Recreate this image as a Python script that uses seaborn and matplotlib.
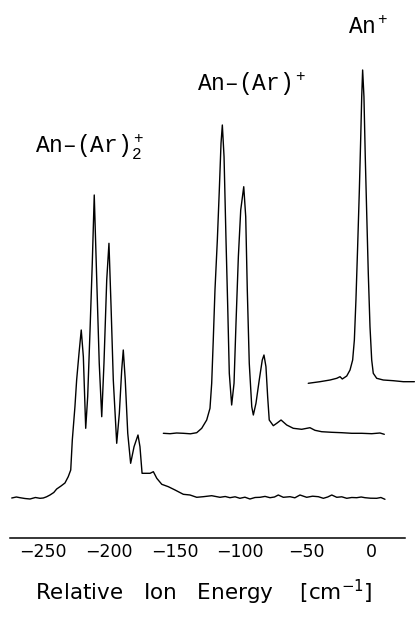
import numpy as np
import pandas as pd
import matplotlib
matplotlib.use("Agg")
import matplotlib.pyplot as plt
import seaborn as sns

# ---- spectra: relative ion energy (cm^-1) and signal (arb. units above each trace's baseline)
dimer_energy = [-274.0, -270.5, -267.7, -264.0, -260.1, -256.0, -252.5, -250.0, -247.5, -244.9,
                -242.0, -239.8, -236.5, -233.5, -231.0, -229.1, -227.9, -225.9, -224.6, -222.8,
                -221.1, -219.5, -217.7, -216.2, -214.4, -212.7, -211.2, -209.3, -207.4, -205.5,
                -203.8, -201.7, -200.0, -198.4, -196.7, -194.1, -192.1, -190.3, -189.1, -187.6,
                -185.7, -183.5, -180.9, -177.9, -176.4, -174.8, -172.5, -168.7, -166.2, -163.6,
                -159.8, -154.8, -149.7, -143.4, -138.3, -133.2, -128.2, -121.8, -115.5, -111.5,
                -107.9, -104.0, -100.3, -96.5, -92.7, -88.8, -85.0, -81.2, -77.4, -74.0,
                -71.1, -67.3, -62.2, -58.5, -54.6, -49.5, -45.0, -40.6, -36.8, -33.5,
                -30.4, -26.6, -22.8, -19.0, -15.2, -11.4, -8.0, -5.1, -1.0, 3.8, 7.0, 10.1]
dimer_signal = [0.0, 1.0, 0.3, -0.5, -1.0, 0.5, -0.3, 0.0, 1.2, 3.0,
                5.5, 9.0, 12.0, 15.0, 21.3, 28.0, 58.0, 91.3, 118.0, 144.7,
                168.0, 141.3, 69.7, 101.3, 168.0, 234.7, 303.0, 218.0, 134.7, 81.3,
                134.7, 218.0, 254.7, 191.3, 118.0, 54.7, 84.7, 128.0, 148.0, 118.0,
                64.7, 34.7, 51.3, 63.0, 51.3, 24.7, 24.7, 24.7, 26.3, 19.7,
                13.7, 11.3, 8.0, 3.7, 3.0, 0.7, 1.3, 2.3, 0.7, 1.5,
                0.3, 1.2, -0.3, 0.8, -1.0, 0.5, 0.7, 1.6, 0.3, 1.0,
                3.0, 0.7, 1.3, 0.2, 3.0, 0.7, 1.8, 1.3, -0.3, 1.0,
                3.0, 0.7, 1.2, -0.3, 0.5, 0.3, 1.0, 0.3, -0.2, -0.3, 0.5, -1.3]

monomer_energy = [-158.6, -153.5, -148.5, -143.4, -138.0, -133.2, -129.4, -125.6, -123.1, -121.8,
                  -120.6, -119.3, -117.5, -116.0, -114.7, -113.7, -112.4, -110.9, -109.6, -108.4,
                  -106.6, -104.8, -103.3, -101.5, -99.7, -97.4, -95.9, -94.7, -93.2, -91.3,
                  -90.1, -88.1, -85.6, -83.3, -82.0, -80.5, -79.2, -78.0, -74.9, -72.3,
                  -69.0, -64.7, -59.7, -53.3, -47.0, -43.2, -38.1, -30.4, -22.8, -15.2,
                  -7.6, 0.0, 6.3, 9.6]
monomer_signal = [0.7, 0.3, 1.0, 0.7, 0.2, 1.3, 5.7, 14.0, 25.7, 50.7,
                  94.0, 144.0, 194.0, 244.0, 290.7, 309.0, 277.3, 194.0, 127.3, 60.7,
                  29.0, 50.7, 110.7, 177.3, 224.0, 247.3, 217.3, 144.0, 70.7, 27.3,
                  19.0, 30.7, 54.0, 74.0, 79.0, 67.3, 37.3, 14.0, 8.3, 10.7,
                  14.0, 9.0, 5.7, 4.7, 6.3, 3.7, 2.3, 1.7, 1.3, 0.7,
                  0.7, 0.3, 1.0, -0.3]

bare_energy = [-48.3, -39.4, -31.7, -26.6, -24.1, -22.4, -19.0, -16.5, -14.5, -13.2,
               -12.0, -10.7, -9.4, -8.4, -7.6, -6.9, -5.9, -4.9, -3.8, -2.6,
               -1.3, 0.0, 1.2, 3.8, 8.8, 16.4, 24.1, 32.5]
bare_signal = [-1.3, 0.3, 2.0, 3.7, 5.3, 3.0, 6.0, 12.0, 22.0, 42.0,
               82.0, 135.3, 192.0, 242.0, 285.3, 312.0, 285.3, 225.3, 168.7, 108.7,
               55.3, 22.0, 8.7, 3.7, 2.0, 1.3, 0.3, 0.3]

species_labels = ["An\u2013(Ar)$_2^+$", "An\u2013(Ar)$^+$", "An$^+$"]
tick_values = [-250, -200, -150, -100, -50, 0]
tick_labels = ["\u2212250", "\u2212200", "\u2212150", "\u2212100", "\u221250", "0"]
x_title = "Relative   Ion   Energy    [cm$^{-1}$]"

# vertical stacking of the three traces
baselines = [39.7, 103.7, 155.7]

sns.set_style("white")
plt.rcParams["font.family"] = ["DejaVu Sans"]
plt.rcParams["text.color"] = "black"
plt.rcParams["axes.labelcolor"] = "black"
plt.rcParams["mathtext.fontset"] = "custom"
plt.rcParams["mathtext.rm"] = "Liberation Mono"
plt.rcParams["mathtext.it"] = "Liberation Mono"
plt.rcParams["mathtext.bf"] = "Liberation Mono:bold"

fig = plt.figure(figsize=(4.17, 6.18), dpi=100)
ax = fig.add_axes([0.0, 1 - 537.7 / 618, 1.0, 537.7 / 618])

traces = [(dimer_energy, dimer_signal), (monomer_energy, monomer_signal), (bare_energy, bare_signal)]
frames = []
for name, (e, s), base in zip(species_labels, traces, baselines):
    frames.append(pd.DataFrame({"energy": e, "signal": np.asarray(s) + base, "species": name}))
df = pd.concat(frames, ignore_index=True)

for name in species_labels:
    sns.lineplot(data=df[df["species"] == name], x="energy", y="signal", color="black",
                 linewidth=1.0, estimator=None, sort=False, ax=ax, legend=False)

ax.set_xlim((0 - 371.7) / 1.3137, (417 - 371.7) / 1.3137)
ax.set_ylim(0, 537.7)

for side in ["left", "top", "right"]:
    ax.spines[side].set_visible(False)
ax.spines["bottom"].set_bounds(-275.3, 25.3)
ax.spines["bottom"].set_linewidth(1.1)
ax.spines["bottom"].set_color("black")
ax.set_yticks([])
ax.set_xticks(tick_values)
ax.set_xticklabels(tick_labels)
ax.tick_params(axis="x", direction="in", length=5.5, width=1.0, pad=3.5, labelsize=12.5, colors="black")
ax.set_ylabel("")
ax.set_xlabel(x_title, fontsize=15.5, math_fontfamily="dejavusans")
ax.xaxis.set_label_coords(204 / 417, -40 / 537.7)

mono = dict(family="Liberation Mono", fontsize=16.5, color="black", ha="left", va="baseline")
fig.text(35 / 417, 1 - 153.5 / 618, species_labels[0], **mono)
fig.text(197 / 417, 1 - 91 / 618, species_labels[1], **mono)
fig.text(348 / 417, 1 - 34 / 618, species_labels[2], **mono)

fig.savefig("out.png", dpi=100)
